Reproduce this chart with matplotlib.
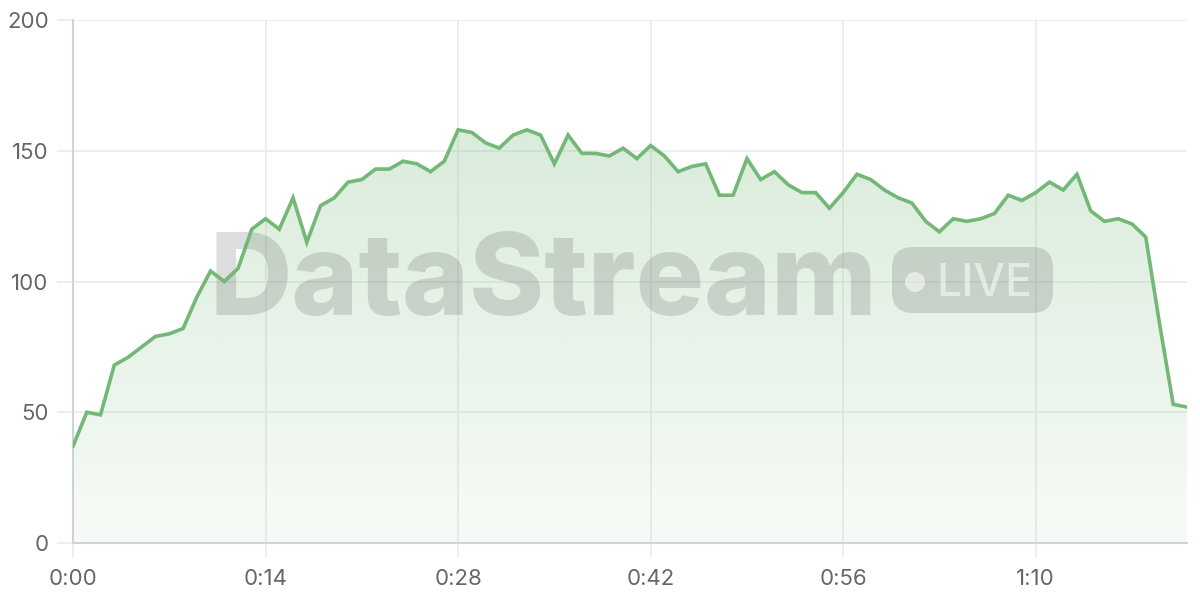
import matplotlib
matplotlib.use("Agg")
import matplotlib.pyplot as plt
import matplotlib.transforms as mtransforms
from matplotlib.patches import FancyBboxPatch, Circle
import numpy as np

# seconds since start, one sample per second
seconds = list(range(82))
viewers = [37, 50, 49, 68, 71, 75, 79, 80, 82, 94,
           104, 100, 105, 120, 124, 120, 132, 115, 129, 132,
           138, 139, 143, 143, 146, 145, 142, 146, 158, 157,
           153, 151, 156, 158, 156, 145, 156, 149, 149, 148,
           151, 147, 152, 148, 142, 144, 145, 133, 133, 147,
           139, 142, 137, 134, 134, 128, 134, 141, 139, 135,
           132, 130, 123, 119, 124, 123, 124, 126, 133, 131,
           134, 138, 135, 141, 127, 123, 124, 122, 117, 84,
           53, 52]
x_ticks = [0, 14, 28, 42, 56, 70]
y_ticks = [0, 50, 100, 150, 200]

LINE = "#73b877"
GRID = "#ebebeb"
SPINE = "#d2d2d2"
LABEL = "#666666"
FONT = ["Inter", "DejaVu Sans"]

plt.rcParams["font.family"] = FONT

fig = plt.figure(figsize=(12, 6), dpi=100)
fig.patch.set_facecolor("white")
ax = fig.add_axes([73 / 1200, 57 / 600, (1187 - 73) / 1200, (543 - 20) / 600])

x = np.array(seconds)
y = np.array(viewers)

# gradient fill under the line
fill = ax.fill_between(x, y, 0, color="none", lw=0)
grad = np.linspace(0.06, 0.27, 256).reshape(-1, 1)
rgba = np.zeros((256, 1, 4))
rgba[..., 0] = 0x73 / 255
rgba[..., 1] = 0xb8 / 255
rgba[..., 2] = 0x77 / 255
rgba[..., 3] = grad
img = ax.imshow(rgba, extent=[x.min(), x.max(), 0, y.max()], origin="lower",
                aspect="auto", zorder=1)
img.set_clip_path(fill.get_paths()[0], transform=ax.transData)

ax.plot(x, y, color=LINE, lw=2.6, zorder=4, solid_joinstyle="miter")

ax.set_xlim(0, 81)
ax.set_ylim(0, 200)
ax.set_xticks(x_ticks)
ax.set_xticklabels([f"{s // 60}:{s % 60:02d}" for s in x_ticks])
ax.set_yticks(y_ticks)
ax.grid(True, color=GRID, lw=1.2, zorder=0)
ax.set_axisbelow(True)
for side in ["top", "right"]:
    ax.spines[side].set_visible(False)
for side in ["left", "bottom"]:
    ax.spines[side].set_color(SPINE)
    ax.spines[side].set_linewidth(1.5)
ax.tick_params(axis="y", length=11.5, width=1.2, color=GRID, pad=6,
               labelcolor=LABEL, labelsize=16)
ax.tick_params(axis="x", length=11, width=1.2, color=GRID, pad=8,
               labelcolor=LABEL, labelsize=16)

# watermark, placed in pixel coordinates of the 1200x600 canvas
px = mtransforms.Affine2D().scale(1 / 1200, -1 / 600).translate(0, 1) + fig.transFigure
ax.text(210, 315, "DataStream", transform=px, fontsize=82, fontweight="heavy",
        color="#555555", alpha=0.2, ha="left", va="baseline", zorder=3,
        clip_on=False)
badge = FancyBboxPatch((892, 247), 161, 66, boxstyle="round,pad=0,rounding_size=21",
                       transform=px, facecolor="#555555", edgecolor="none",
                       alpha=0.2, zorder=3, clip_on=False)
ax.add_patch(badge)
ax.add_patch(Circle((915, 282), 10, transform=px, facecolor="white",
                    edgecolor="none", alpha=0.55, zorder=3, clip_on=False))
ax.text(936, 296, "LIVE", transform=px, fontsize=32, fontweight="medium",
        color="white", alpha=0.55, ha="left", va="baseline", zorder=3,
        clip_on=False)

fig.savefig("out.png", dpi=100, facecolor="white")
